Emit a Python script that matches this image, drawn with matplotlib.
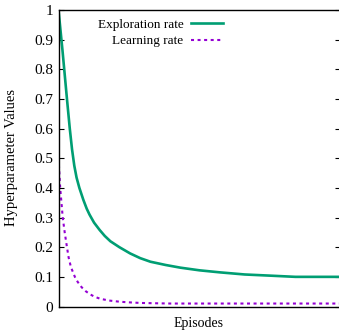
import matplotlib.pyplot as plt

# episodes (x axis has no tick labels, 0..500 assumed)
expl_episodes = [0, 7, 15, 20, 24, 28, 32, 37, 44, 50, 55, 63, 73, 82, 92, 108, 127, 145,
                 163, 190, 216, 250, 287, 330, 376, 420, 500]
expl_rate = [1.0, 0.865, 0.70, 0.60, 0.53, 0.475, 0.435, 0.40, 0.36, 0.33, 0.31, 0.283,
             0.258, 0.238, 0.22, 0.20, 0.179, 0.163, 0.151, 0.14, 0.131, 0.122, 0.115,
             0.108, 0.104, 0.100, 0.100]

lr_episodes = [0, 3, 7.5, 11, 15, 18, 22, 29, 34, 41, 48, 56, 64, 74, 90, 109, 125, 145,
               170, 198, 500]
lr_rate = [0.50, 0.40, 0.30, 0.25, 0.20, 0.165, 0.133, 0.10, 0.083, 0.065, 0.052, 0.041,
           0.033, 0.026, 0.02, 0.016, 0.014, 0.012, 0.011, 0.010, 0.010]

y_ticks = [0, 0.1, 0.2, 0.3, 0.4, 0.5, 0.6, 0.7, 0.8, 0.9, 1]
y_tick_labels = ['0', '0.1', '0.2', '0.3', '0.4', '0.5', '0.6', '0.7', '0.8', '0.9', '1']

plt.rcParams['font.family'] = ['Liberation Serif', 'DejaVu Serif']

W, H = 339, 333
fig = plt.figure(figsize=(W / 100, H / 100), dpi=100)
ax = fig.add_axes([58.5 / W, 1 - 306.5 / H, (340.5 - 58.5) / W, (306.5 - 10) / H])

ax.plot(expl_episodes, expl_rate, color='#009e73', lw=1.9, label='Exploration rate')
ax.plot(lr_episodes, lr_rate, color='#9400d3', lw=1.5, linestyle=(0, (1.45, 1.7)),
        label='Learning rate')

ax.set_xlim(0, 500)
ax.set_ylim(0, 1)
ax.set_xticks([])
ax.set_yticks(y_ticks)
ax.set_yticklabels(y_tick_labels)
ax.tick_params(axis='y', direction='in', length=3.5, width=0.8, right=True,
               labelsize=11, pad=4)
for s in ax.spines.values():
    s.set_linewidth(1.0)
    s.set_color('black')

ax.legend(loc='upper right', bbox_to_anchor=((223 - 58.5) / 282, 0.972),
          frameon=False, markerfirst=False, fontsize=9.5, borderpad=0,
          borderaxespad=0, handlelength=2.4, handletextpad=0.6, labelspacing=0.35)

fig.text(199 / W, 1 - 323 / H, 'Episodes', ha='center', va='center', fontsize=10)
fig.text(12 / W, 1 - 158 / H, 'Hyperparameter Values', ha='center', va='center',
         rotation=90, fontsize=10.5)

fig.savefig('out.png', dpi=100)
